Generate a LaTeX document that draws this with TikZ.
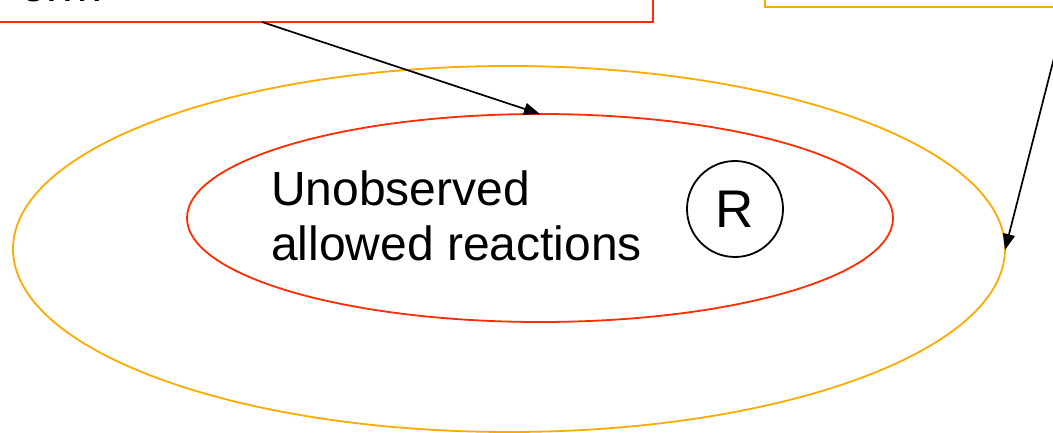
\documentclass[tikz,border=0pt]{standalone}
\usepackage{fontspec}
\setmainfont{Liberation Sans}
\usetikzlibrary{shapes.geometric,arrows.meta}
\definecolor{myred}{RGB}{255,45,0}
\definecolor{myorange}{RGB}{255,170,0}
\tikzset{
  redline/.style={draw=myred,line width=1.8pt},
  orangeline/.style={draw=myorange,line width=1.8pt},
  boxred/.style={draw=myred,line width=2.2pt,minimum width=673pt,minimum height=122pt,inner sep=0pt,outer sep=0pt},
  boxorange/.style={draw=myorange,line width=2.2pt,minimum width=335pt,minimum height=107pt,inner sep=0pt,outer sep=0pt},
  arr/.style={draw=black,line width=1.7pt,-{Triangle[length=16pt,width=12pt]}},
  bigtext/.style={font=\fontsize{48}{55}\selectfont,inner sep=0pt,outer sep=0pt},
}
\begin{document}
\begin{tikzpicture}[x=1pt,y=-1pt]
\clip (0,0) rectangle (1053,433);
\fill[white] (0,0) rectangle (1053,433);
% top boxes (cut off)
\node[boxred] (redbox) at (316.5,-39) {};
\node[bigtext,anchor=base west] (toptext) at (20,1.5) {orm};
\node[boxorange] (orangebox) at (932.5,-46.5) {};
% ellipses
\node[ellipse,orangeline,minimum width=992pt,minimum height=366pt,inner sep=0pt,outer sep=0pt] (outer) at (509,249) {};
\node[ellipse,redline,minimum width=706pt,minimum height=208pt,inner sep=0pt,outer sep=0pt] (inner) at (540,218) {};
% text
\node[bigtext,anchor=base west,align=left] (label) at (271,260) {Unobserved\\allowed reactions};
\node[circle,draw=black,line width=1.8pt,minimum size=96pt,inner sep=0pt,font=\fontsize{53}{60}\selectfont] (R) at (735,209) {R};
% arrows
\draw[arr] ([xshift=-54.5pt]redbox.south) -- (inner.north);
\draw[arr] ([xshift=134.5pt]orangebox.south) -- ([yshift=-1pt]outer.east);
\end{tikzpicture}
\end{document}
